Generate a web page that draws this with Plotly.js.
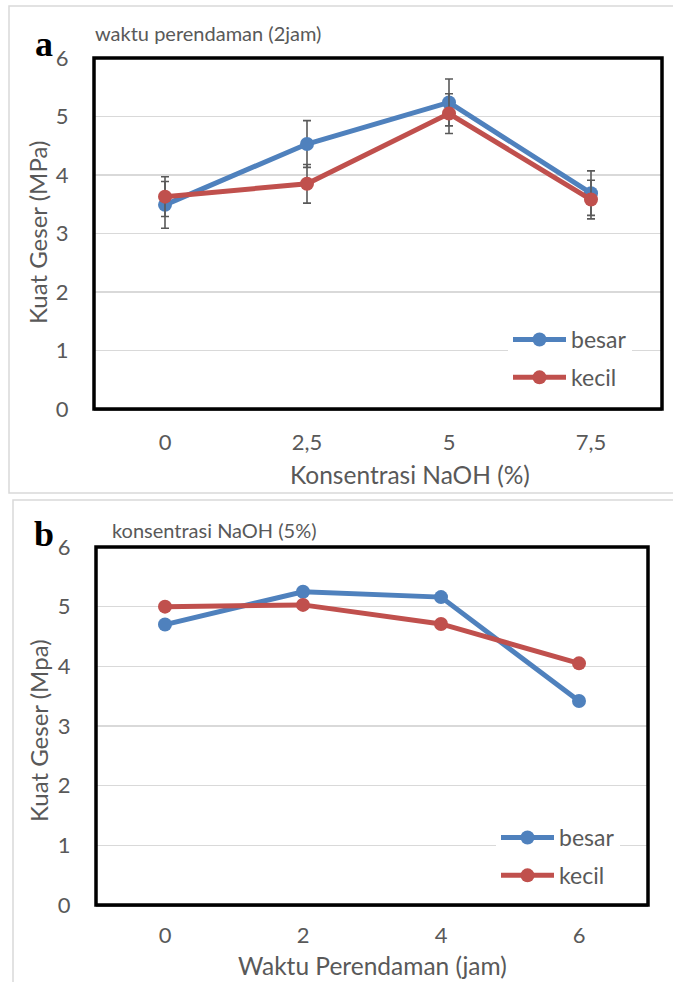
<!DOCTYPE html>
<html><head><meta charset="utf-8">
<script src="https://cdn.plot.ly/plotly-3.0.1.min.js"></script>
<style>html,body{margin:0;padding:0;background:#fff}</style>
</head><body><div id="chart" style="width:673px;height:982px"></div>
<script>
// ---- data ----
const catsA = ['0', '2,5', '5', '7,5'];
const besarA = [3.49, 4.53, 5.24, 3.69];
const kecilA = [3.63, 3.85, 5.05, 3.58];
const errBesarA = [0.40, 0.40, 0.40, 0.38];
const errKecilA = [0.34, 0.33, 0.34, 0.33];
const catsB = ['0', '2', '4', '6'];
const besarB = [4.70, 5.25, 5.16, 3.42];
const kecilB = [5.00, 5.03, 4.71, 4.05];
const seriesNames = ['besar', 'kecil'];
const yTicks = [0, 1, 2, 3, 4, 5, 6];

const W = 673, H = 982;
const px = x => x / W;
const py = y => 1 - y / H;
const FONT = 'Lato, "Open Sans", sans-serif';
const GREY = '#595959';
const BLUE = '#4F81BD', RED = '#C0504D';

function series(x, y, name, color, xa, ya, legend, err) {
  const t = {
    x: x, y: y, name: name, type: 'scatter', mode: 'lines+markers',
    xaxis: xa, yaxis: ya, legend: legend, legendgroup: legend + name,
    line: {color: color, width: 5},
    marker: {color: color, size: 14, symbol: 'circle'},
    hoverinfo: 'x+y'
  };
  if (err) t.error_y = {type: 'data', array: err, visible: true, color: GREY, thickness: 1.6, width: 4};
  return t;
}

const data = [
  series(catsA, besarA, seriesNames[0], BLUE, 'x', 'y', 'legend', errBesarA),
  series(catsA, kecilA, seriesNames[1], RED, 'x', 'y', 'legend', errKecilA),
  series(catsB, besarB, seriesNames[0], BLUE, 'x2', 'y2', 'legend2', null),
  series(catsB, kecilB, seriesNames[1], RED, 'x2', 'y2', 'legend2', null)
];

function yax(domain, anchor) {
  return {
    domain: domain, anchor: anchor, range: [0, 6], tickvals: yTicks,
    showgrid: true, gridcolor: '#D9D9D9', gridwidth: 1.5, zeroline: false,
    showline: false, ticks: 'outside', ticklen: 20, tickcolor: 'rgba(0,0,0,0)',
    tickfont: {family: FONT, size: 22, color: GREY}, fixedrange: true
  };
}
function xax(domain, anchor, tl) {
  return {
    domain: domain, anchor: anchor, type: 'category', range: [-0.5, 3.5],
    showgrid: false, zeroline: false, showline: true, linecolor: '#868686', linewidth: 1.5,
    ticks: 'outside', ticklen: tl, tickcolor: 'rgba(0,0,0,0)',
    tickfont: {family: FONT, size: 22, color: GREY}, fixedrange: true
  };
}

const A = {l: 94, r: 662, t: 58, b: 409};
const B = {l: 96, r: 648, t: 547, b: 905};

function rectPx(l, t, r, b, color, width) {
  return {type: 'rect', xref: 'paper', yref: 'paper', x0: px(l), x1: px(r), y0: py(b), y1: py(t),
    line: {color: color, width: width}, fillcolor: 'rgba(0,0,0,0)', layer: 'above'};
}

function ann(text, x, y, size, opts) {
  return Object.assign({text: text, xref: 'paper', yref: 'paper', x: px(x), y: py(y),
    showarrow: false, font: {family: FONT, size: size, color: GREY}}, opts || {});
}

const layout = {
  width: W, height: H, margin: {l: 0, r: 0, t: 0, b: 0},
  paper_bgcolor: '#fff', plot_bgcolor: '#fff', showlegend: true,
  xaxis: xax([px(A.l), px(A.r)], 'y', 13),
  yaxis: yax([py(A.b), py(A.t)], 'x'),
  xaxis2: xax([px(B.l), px(B.r)], 'y2', 10),
  yaxis2: yax([py(B.b), py(B.t)], 'x2'),
  legend: {x: px(508), y: py(318), xanchor: 'left', yanchor: 'top', bgcolor: '#fff',
    font: {family: FONT, size: 23, color: GREY}, itemwidth: 53, tracegroupgap: 5, traceorder: 'grouped'},
  legend2: {x: px(496), y: py(816), xanchor: 'left', yanchor: 'top', bgcolor: '#fff',
    font: {family: FONT, size: 23, color: GREY}, itemwidth: 53, tracegroupgap: 5, traceorder: 'grouped'},
  shapes: [
    rectPx(9, 6, 700, 493, '#D9D9D9', 1.5),
    rectPx(13, 500, 700, 1000, '#D9D9D9', 1.5),
    rectPx(A.l, A.t, A.r, A.b, '#000', 3.5),
    rectPx(B.l, B.t, B.r, B.b, '#000', 3.5)
  ],
  annotations: [
    ann('waktu perendaman (2jam)', 93, 33, 20, {xanchor: 'left', yanchor: 'middle'}),
    ann('konsentrasi NaOH (5%)', 110, 530, 20, {xanchor: 'left', yanchor: 'middle'}),
    ann('Kuat Geser (MPa)', 38, 233, 24, {textangle: -90, xanchor: 'center', yanchor: 'middle'}),
    ann('Kuat Geser (Mpa)', 38, 731, 24, {textangle: -90, xanchor: 'center', yanchor: 'middle'}),
    ann('Konsentrasi NaOH (%)', 410, 475, 24.5, {xanchor: 'center', yanchor: 'middle'}),
    ann('Waktu Perendaman (jam)', 372, 965, 24.5, {xanchor: 'center', yanchor: 'middle'}),
    ann('<b>a</b>', 44, 44, 36, {font: {family: '"Liberation Serif", serif', size: 36, color: '#000'}, xanchor: 'center', yanchor: 'middle'}),
    ann('<b>b</b>', 44, 534, 36, {font: {family: '"Liberation Serif", serif', size: 36, color: '#000'}, xanchor: 'center', yanchor: 'middle'})
  ]
};

Plotly.newPlot('chart', data, layout, {displayModeBar: false, staticPlot: true});
</script>
</body></html>
